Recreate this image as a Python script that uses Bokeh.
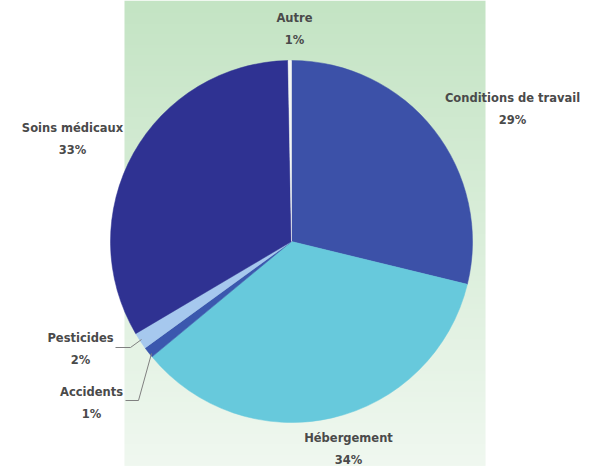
import numpy as np
from bokeh.plotting import figure
from bokeh.models import Range1d, ColumnDataSource
from bokeh.core.properties import value
from bokeh.embed import file_html
from bokeh.resources import INLINE

# ---- data ----
categories = ["Conditions de travail", "Hébergement", "Accidents", "Pesticides", "Soins médicaux", "Autre"]
shares = [28.8, 35.2, 1.0, 1.5, 33.2, 0.3]
pct_labels = ["29%", "34%", "1%", "2%", "33%", "1%"]
colors = ["#3c51a8", "#67c9dc", "#3b58ae", "#a6c8ee", "#2f3292", "#f4f7f4"]

W, H = 590, 466
p = figure(width=W, height=H, output_backend="svg", toolbar_location=None,
           x_range=Range1d(0, W), y_range=Range1d(0, H), min_border=0)
p.axis.visible = False
p.grid.visible = False
p.outline_line_color = None
p.background_fill_color = "white"
p.border_fill_color = "white"

def Y(y):
    return H - y

# green gradient panel
N = 200
top = np.array([196, 228, 196])
bot = np.array([240, 248, 240])
img = np.zeros((N, 1), dtype=np.uint32)
view = img.view(dtype=np.uint8).reshape((N, 1, 4))
for i in range(N):
    t = i / (N - 1)  # 0 bottom -> 1 top
    c = bot + (top - bot) * t
    view[i, 0, 0] = int(c[0]); view[i, 0, 1] = int(c[1]); view[i, 0, 2] = int(c[2]); view[i, 0, 3] = 255
p.image_rgba(image=[img], x=124, y=0, dw=361, dh=H)

# pie
cx, cy, r = 291, Y(241), 181
fr = np.array(shares) / sum(shares)
cum = np.concatenate([[0], np.cumsum(fr)])
start = np.pi / 2 - cum[:-1] * 2 * np.pi
end = np.pi / 2 - cum[1:] * 2 * np.pi
src = ColumnDataSource(dict(cat=categories, start=start, end=end, color=colors))
p.wedge(x=cx, y=cy, radius=r, start_angle="start", end_angle="end", direction="clock",
        fill_color="color", line_color="color", line_width=0.5, source=src)

# leader lines
p.line(x=[115, 130, 141], y=[Y(347), Y(347), Y(339)], line_color="#808080", line_width=1)
p.line(x=[125, 138, 151], y=[Y(400), Y(400), Y(353)], line_color="#808080", line_width=1)

# labels
lab_x = [512, 348, 91, 80, 72, 294]
lab_y = [97, 437, 391, 337, 127, 17]
names_src = ColumnDataSource(dict(x=lab_x, y=[Y(v) for v in lab_y], t=categories))
pct_src = ColumnDataSource(dict(x=lab_x, y=[Y(v + 22) for v in lab_y], t=pct_labels))
for s in (names_src, pct_src):
    p.text(x="x", y="y", text="t", source=s, text_align="center", text_baseline="middle",
           text_font=value("DejaVu Sans"), text_font_size="11.5px", text_font_style="bold",
           text_color="#4a4a4a")

open("out.html", "w").write(file_html(p, INLINE))
